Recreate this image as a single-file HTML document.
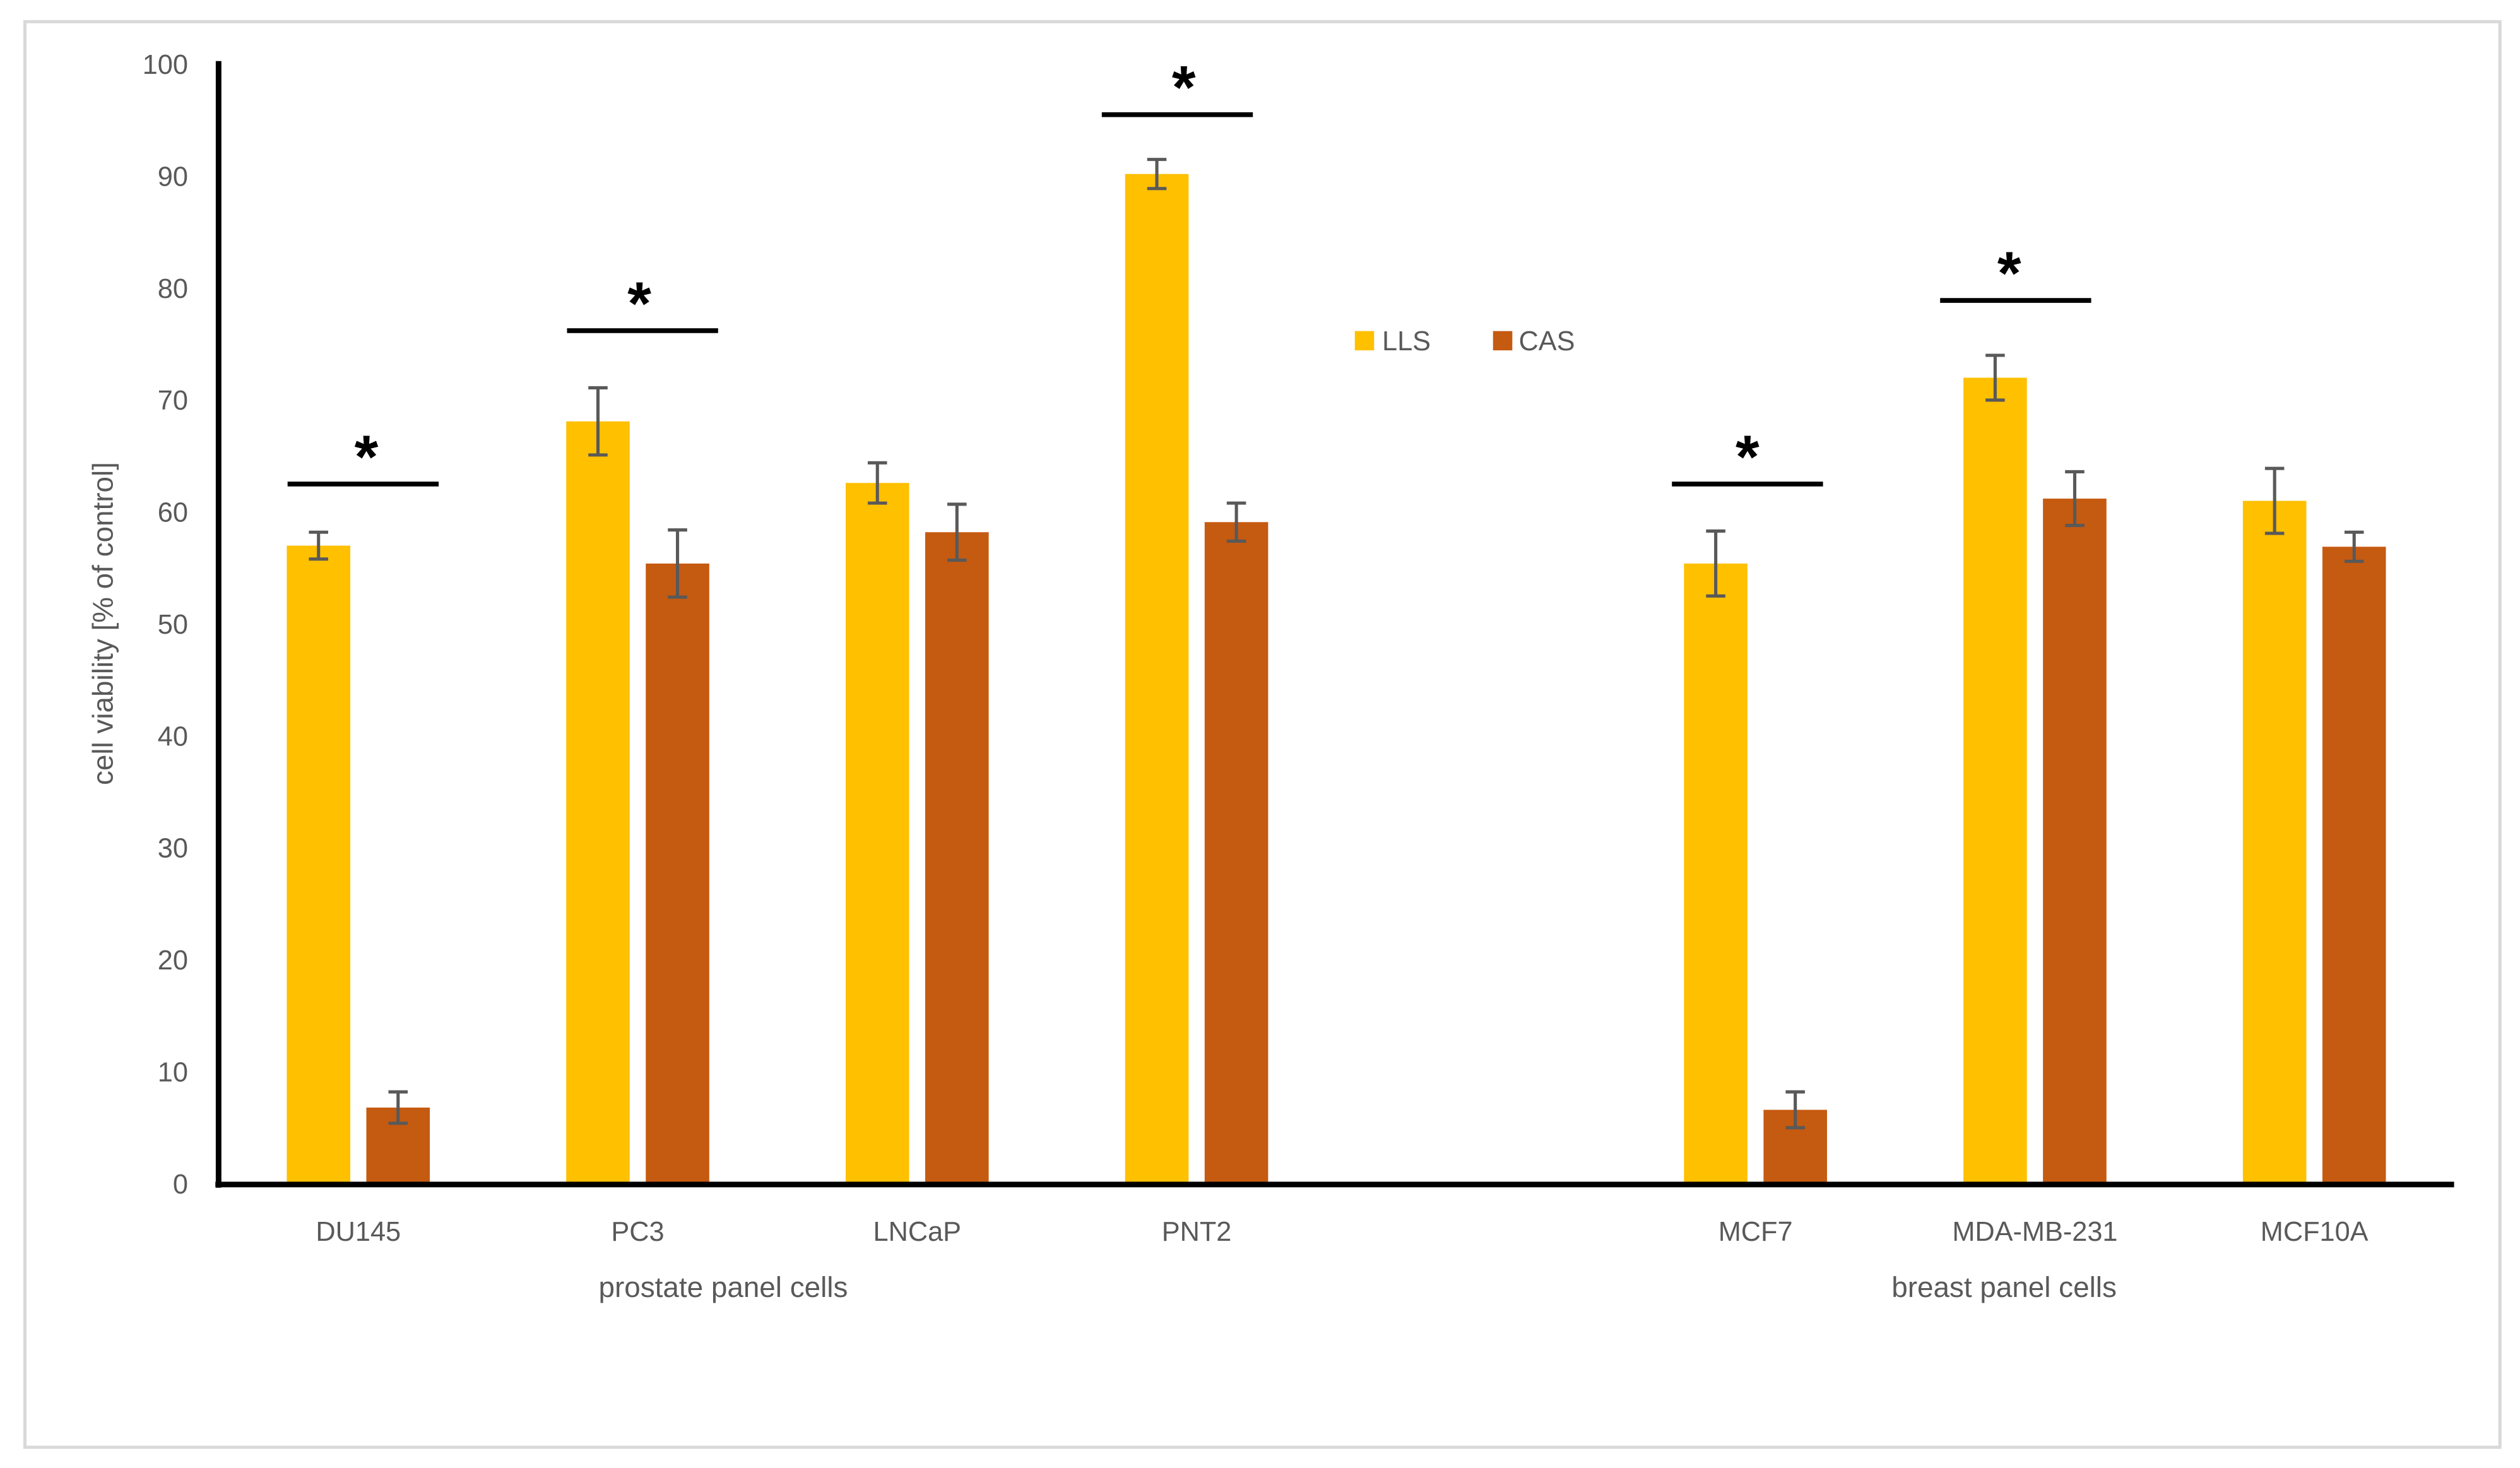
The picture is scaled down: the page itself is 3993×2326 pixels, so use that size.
<!DOCTYPE html>
<html><head><meta charset="utf-8"><style>
html,body{margin:0;padding:0;background:#fff;}
svg{display:block;font-family:"Liberation Sans",sans-serif;}
</style></head><body>
<svg id="chart" width="3993" height="2326" viewBox="0 0 1568 913.4" xmlns="http://www.w3.org/2000/svg">
<rect x="15.5" y="13.5" width="1540" height="887" fill="#fff" stroke="#d9d9d9" stroke-width="2"/>
<g id="grid"></g>
<text transform="translate(70,388) rotate(-90)" text-anchor="middle" font-size="18" fill="#595959">cell viability [% of control]</text>
<g id="marks"></g>
<line x1="136" y1="38" x2="136" y2="739" stroke="#000" stroke-width="3.5"/>
<line x1="134" y1="737" x2="1527" y2="737" stroke="#000" stroke-width="3.5"/>
<g>
<rect x="843" y="206" width="12" height="12" fill="#ffc000"/>
<text x="860" y="218" font-size="17" fill="#595959">LLS</text>
<rect x="929" y="206" width="12" height="12" fill="#c55a11"/>
<text x="945" y="218" font-size="17" fill="#595959">CAS</text>
</g>
<text x="450" y="807" text-anchor="middle" font-size="18" fill="#595959">prostate panel cells</text>
<text x="1247" y="807" text-anchor="middle" font-size="18" fill="#595959">breast panel cells</text>
</svg>
<script>
const categories = ["DU145","PC3","LNCaP","PNT2","","MCF7","MDA-MB-231","MCF10A"];
const llsValues = [57.0, 68.1, 62.6, 90.2, null, 55.4, 72.0, 61.0];
const casValues = [6.8, 55.4, 58.2, 59.1, null, 6.6, 61.2, 56.9];
const llsErrors = [1.2, 3.0, 1.8, 1.3, null, 2.9, 2.0, 2.9];
const casErrors = [1.4, 3.0, 2.5, 1.7, null, 1.6, 2.4, 1.3];
const sigLevels = [62.5, 76.2, null, 95.5, null, 62.5, 78.9, null];
const yTicks = [0,10,20,30,40,50,60,70,80,90,100];

const NS="http://www.w3.org/2000/svg";
const x0=136, x1=1527, yBase=736.5, yTop=40;
const slot=(x1-x0)/categories.length;
const yS=v=>yBase-(v/100)*(yBase-yTop);
const xC=i=>x0+slot*(i+0.5);
// layout-only horizontal offsets of significance marks relative to the category center
const sigLineShift=[3,3,0,-12,0,-5,-12,0];
const sigStarShift=[5,1,0,-8,0,-5,-16,0];
const marks=document.getElementById('marks');
const grid=document.getElementById('grid');
function mk(tag,attrs,parent){const e=document.createElementNS(NS,tag);for(const k in attrs)e.setAttribute(k,attrs[k]);parent.appendChild(e);return e;}

yTicks.forEach(t=>{
  const tx=mk('text',{x:117,y:yS(t)+6,'text-anchor':'end','font-size':'17',fill:'#595959'},grid);
  
  
  tx.textContent=t;
});

function errBar(cx,v,e){
  const l=mk('line',{x1:cx,x2:cx,y1:yS(v+e),y2:yS(v-e),stroke:'#595959','stroke-width':2},marks);
  
  
  [v+e,v-e].forEach(w=>{
    const c=mk('line',{x1:cx-6,x2:cx+6,y1:yS(w),y2:yS(w),stroke:'#595959','stroke-width':2},marks);
    
    
  });
}

categories.forEach((c,i)=>{
  const cx=xC(i);
  if(c){
    const lab=mk('text',{x:cx,y:772,'text-anchor':'middle','font-size':'17',fill:'#595959'},marks);
    
    
    lab.textContent=c;
  }
  if(llsValues[i]!=null){
    const b=mk('rect',{x:cx-44.5,y:yS(llsValues[i]),width:39.5,height:yBase-yS(llsValues[i]),fill:'#ffc000'},marks);
    
    
    errBar(cx-24.75,llsValues[i],llsErrors[i]);
  }
  if(casValues[i]!=null){
    const b=mk('rect',{x:cx+5,y:yS(casValues[i]),width:39.5,height:yBase-yS(casValues[i]),fill:'#c55a11'},marks);
    
    
    errBar(cx+24.75,casValues[i],casErrors[i]);
  }
  if(sigLevels[i]!=null){
    const y=yS(sigLevels[i]);
    const lc=cx+sigLineShift[i];
    const l=mk('line',{x1:lc-47,x2:lc+47,y1:y,y2:y,stroke:'#000','stroke-width':3},marks);
    
    
    const s=mk('text',{x:cx+sigStarShift[i],y:y-4,'text-anchor':'middle','font-size':'38','font-weight':'bold',fill:'#000'},marks);
    
    
    s.textContent='*';
  }
});
</script>
</body></html>
